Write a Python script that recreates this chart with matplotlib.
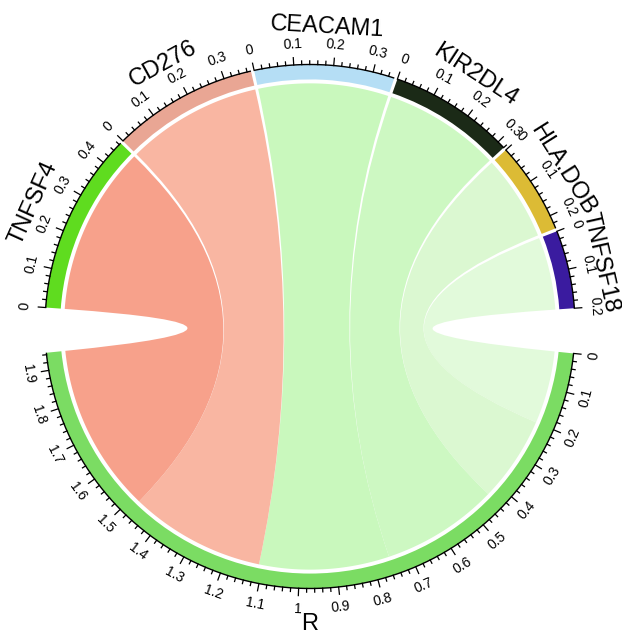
import numpy as np
import matplotlib
matplotlib.use("Agg")
import matplotlib.pyplot as plt
from matplotlib.path import Path
from matplotlib.patches import PathPatch, Wedge

plt.rcParams['font.family'] = ['Liberation Sans', 'DejaVu Sans']

# Sectors on the upper half, linked to the single target sector below
genes = ["TNFSF4", "CD276", "CEACAM1", "KIR2DL4", "HLA.DOB", "TNFSF18"]
values = [0.465, 0.37, 0.355, 0.32, 0.235, 0.20]
target = "R"

track_colors = ["#5fdc1f", "#e9a694", "#b5def5", "#1b2a17", "#dcbb35", "#3a1b9f"]
target_color = "#7bdc63"
chord_colors = ["#f7a18b", "#f9b6a2", "#c9f8bd", "#cdf8c2", "#dbf8d1", "#e2fadb"]

# Layout parameters
big_gap = 9.9
small_gap = 0.7
target_start = -5.9          # angle (deg) where the target sector begins
r_out = 1.0
r_in = 0.943
r_link = 0.928
major_step = 0.1
minor_step = 0.02
name_radius = [1.145, 1.145, 1.145, 1.145, 1.125, 1.122]

total = sum(values)
n = len(genes)
k = (360 - 2 * big_gap - (n - 1) * small_gap) / (2 * total)  # degrees per unit

fig = plt.figure(figsize=(6.22, 6.36), dpi=100)
ax = fig.add_axes([0, 0, 1, 1])
ax.set_xlim(-310 / 265, 312 / 265)
ax.set_ylim(-309.5 / 262, 326.5 / 262)
ax.axis("off")


def pol(a, r):
    t = np.deg2rad(a)
    return np.array([r * np.cos(t), r * np.sin(t)])


def text_rot(a):
    a = (a + 360) % 360
    return a - 90 if 0 <= a <= 180 else a + 90


def draw_sector(a_start, length, color, name, name_r):
    a_end = a_start - length * k
    ax.add_patch(Wedge((0, 0), r_out, a_end, a_start, width=r_out - r_in,
                       facecolor=color, edgecolor="none"))
    th = np.linspace(a_start, a_end, 100)
    ax.plot(r_out * np.cos(np.deg2rad(th)), r_out * np.sin(np.deg2rad(th)),
            color="black", lw=1.0, solid_capstyle="butt")
    steps = int(np.floor(length / minor_step + 1e-6))
    for i in range(steps + 1):
        v = i * minor_step
        a = a_start - v * k
        is_major = abs(v / major_step - round(v / major_step)) < 1e-6
        tl = 0.028 if is_major else 0.014
        p0, p1 = pol(a, r_out), pol(a, r_out + tl)
        ax.plot([p0[0], p1[0]], [p0[1], p1[1]], color="black", lw=0.9)
        if is_major:
            lab = f"{round(v, 1):g}"
            p = pol(a, 1.078)
            ax.text(p[0], p[1], lab, fontsize=10, rotation=text_rot(a),
                    ha="center", va="center", rotation_mode="anchor")
    mid = (a_start + a_end) / 2
    p = pol(mid, name_r)
    ax.text(p[0], p[1], name, fontsize=17, rotation=text_rot(mid),
            ha="center", va="center", rotation_mode="anchor")
    return a_end


# Target sector (bottom)
target_end = draw_sector(target_start, total, target_color, target, 1.135)

# Gene sectors (top)
a = target_end - big_gap
gene_spans = []
for g, v, c, nr in zip(genes, values, track_colors, name_radius):
    a_end = draw_sector(a, v, c, g, nr)
    gene_spans.append((a, a_end))
    a = a_end - small_gap

# Links: mirrored order on the target sector
pos = 0.0
for i in reversed(range(n)):
    t0, t1 = gene_spans[i]
    r0 = target_start - pos * k
    r1 = target_start - (pos + values[i]) * k
    pos += values[i]

    top = np.linspace(t0, t1, 80)
    bot = np.linspace(r0, r1, 80)
    verts, codes = [], []
    for j, ang in enumerate(top):
        verts.append(pol(ang, r_link))
        codes.append(Path.MOVETO if j == 0 else Path.LINETO)
    verts += [(0, 0), pol(r0, r_link)]
    codes += [Path.CURVE3, Path.CURVE3]
    for ang in bot[1:]:
        verts.append(pol(ang, r_link))
        codes.append(Path.LINETO)
    verts += [(0, 0), pol(t0, r_link)]
    codes += [Path.CURVE3, Path.CURVE3]
    verts.append(pol(t0, r_link))
    codes.append(Path.CLOSEPOLY)
    ax.add_patch(PathPatch(Path(verts, codes), facecolor=chord_colors[i],
                           edgecolor="none", zorder=1))

fig.savefig("out.png", dpi=100)
